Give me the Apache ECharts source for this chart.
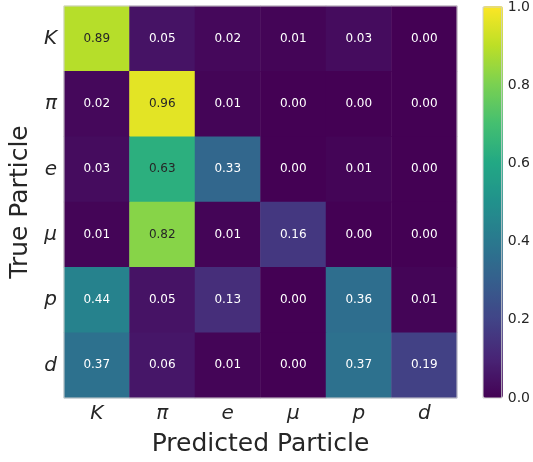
<!DOCTYPE html>
<html>
<head>
<meta charset="utf-8">
<script src="https://cdn.jsdelivr.net/npm/echarts@6/dist/echarts.min.js"></script>
<style>
  html, body { margin: 0; padding: 0; background: #ffffff; }
  #chart { width: 533px; height: 462px; }
</style>
</head>
<body>
<div id="chart"></div>
<script>
// Particle labels (rows = true class, columns = predicted class)
const particles = ['K', 'π', 'e', 'μ', 'p', 'd'];

// Row-normalised confusion matrix, one array per true particle
const rowK  = [0.89, 0.05, 0.02, 0.01, 0.03, 0.00];
const rowPi = [0.02, 0.96, 0.01, 0.00, 0.00, 0.00];
const rowE  = [0.03, 0.63, 0.33, 0.00, 0.01, 0.00];
const rowMu = [0.01, 0.82, 0.01, 0.16, 0.00, 0.00];
const rowP  = [0.44, 0.05, 0.13, 0.00, 0.36, 0.01];
const rowD  = [0.37, 0.06, 0.01, 0.00, 0.37, 0.19];
const rows = [rowK, rowPi, rowE, rowMu, rowP, rowD];

// Colour bar ticks
const colorbarTicks = [0.0, 0.2, 0.4, 0.6, 0.8, 1.0];

// Viridis colour map stops
const viridis = ['#440154', '#482475', '#414487', '#355f8d', '#2a788e',
                 '#21918c', '#22a884', '#44bf70', '#7ad151', '#bddf26', '#fde725'];

const FONT = '"DejaVu Sans", sans-serif';
const TEXT = '#262626';

// Heatmap cells; bright cells get dark annotations
const cells = [];
rows.forEach((row, r) => {
  row.forEach((v, c) => cells.push({
    value: [c, r, v],
    label: { color: v > 0.5 ? TEXT : '#ffffff' }
  }));
});

const chart = echarts.init(document.getElementById('chart'), null, { renderer: 'canvas' });
chart.setOption({
  animation: false,
  backgroundColor: '#ffffff',
  grid: [
    { left: 63, top: 6, width: 394, height: 392, show: true, z: 10,
      borderColor: '#cfcfcf', borderWidth: 1, backgroundColor: 'transparent' },
    { left: 483, top: 6, width: 20, height: 392, show: true, z: 10,
      borderColor: '#cfcfcf', borderWidth: 1, backgroundColor: 'transparent' }
  ],
  xAxis: [
    {
      gridIndex: 0, type: 'category', data: particles, position: 'bottom',
      axisLine: { show: false }, axisTick: { show: false }, splitLine: { show: false },
      axisLabel: { fontFamily: FONT, fontStyle: 'italic', fontSize: 20, color: TEXT, margin: 6 },
      name: 'Predicted Particle', nameLocation: 'middle', nameGap: 34,
      nameTextStyle: { fontFamily: FONT, fontSize: 25, color: TEXT }
    },
    { gridIndex: 1, type: 'value', show: false, min: 0, max: 1 }
  ],
  yAxis: [
    {
      gridIndex: 0, type: 'category', data: particles, inverse: true,
      axisLine: { show: false }, axisTick: { show: false }, splitLine: { show: false },
      axisLabel: { fontFamily: FONT, fontStyle: 'italic', fontSize: 20, color: TEXT, margin: 7 },
      name: 'True Particle', nameLocation: 'middle', nameGap: 22, nameRotate: 90,
      nameTextStyle: { fontFamily: FONT, fontSize: 25, color: TEXT }
    },
    {
      gridIndex: 1, type: 'value', position: 'right', min: 0, max: 1, interval: 0.2,
      axisLine: { show: false }, axisTick: { show: false }, splitLine: { show: false },
      axisLabel: { fontFamily: FONT, fontSize: 14, color: TEXT, margin: 6,
                   formatter: v => colorbarTicks.includes(+v.toFixed(1)) ? v.toFixed(1) : '' }
    }
  ],
  visualMap: {
    type: 'continuous', min: 0, max: 1, seriesIndex: 0, z: 1,
    calculable: false, realtime: false, text: null, showLabel: false,
    left: 483, top: 6, itemWidth: 20, itemHeight: 392, padding: 0,
    inRange: { color: viridis }, textStyle: { color: 'transparent' }
  },
  series: [{
    type: 'heatmap', xAxisIndex: 0, yAxisIndex: 0, data: cells,
    label: {
      show: true, fontFamily: FONT, fontSize: 12,
      formatter: p => p.value[2].toFixed(2)
    },
    itemStyle: { borderWidth: 0 },
    emphasis: { disabled: true }
  }]
});
</script>
</body>
</html>
